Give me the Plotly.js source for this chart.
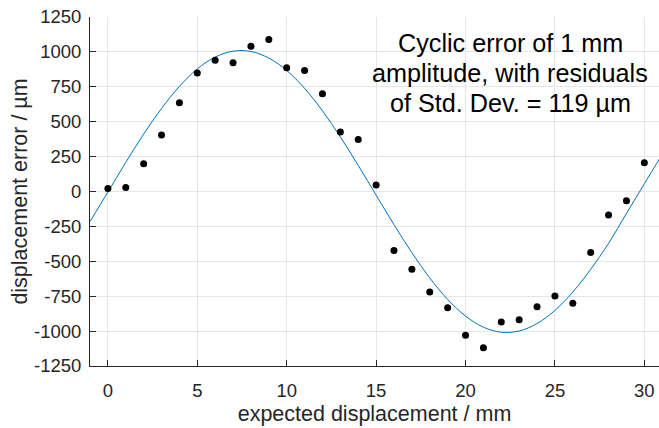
<!DOCTYPE html>
<html>
<head>
<meta charset="utf-8">
<script src="https://cdn.plot.ly/plotly-3.0.1.min.js"></script>
<style>html,body{margin:0;padding:0;background:#fff;}#chart{width:659px;height:428px;}</style>
</head>
<body>
<div id="chart"></div>
<script>
// Measured points
const measuredX = [0,1,2,3,4,5,6,7,8,9,10,11,12,13,14,15,16,17,18,19,20,21,22,23,24,25,26,27,28,29,30];
const measuredY = [22,29,199,404,636,849,940,923,1040,1088,887,866,701,426,373,46,-423,-557,-720,-832,-1030,-1119,-935,-918,-825,-748,-801,-437,-168,-67,206];
// Fitted cyclic curve
const fitX = [-1,0,1,2,3,4,5,6,7,8,9,10,11,12,13,14,15,16,17,18,19,20,21,22,23,24,25,26,27,28,29,30,31];
const fitY = [-216,-4,208,411,595,753,878,963,1005,1003,956,867,739,578,391,187,-26,-237,-438,-619,-773,-892,-972,-1008,-999,-946,-852,-720,-558,-372,-157,55,267];
const xTicks = [0,5,10,15,20,25,30];
const xTickText = ["0","5","10","15","20","25","30"];
const yTicks = [-1250,-1000,-750,-500,-250,0,250,500,750,1000,1250];
const yTickText = ["-1250","-1000","-750","-500","-250","0","250","500","750","1000","1250"];
const annotationLines = ["Cyclic error of 1 mm", "amplitude, with residuals", "of Std. Dev. = 119 µm"];

const fontFam = "Liberation Sans, Arial, sans-serif";
const axCol = "#262626";

const lineY = [1067, 851, 636];
const annotations = annotationLines.map((t, i) => ({
  text: t, xref: "x", yref: "y", x: 22.5, y: lineY[i],
  xanchor: "center", yanchor: "middle", showarrow: false,
  font: {size: 25.2, color: "#000", family: fontFam}
}));

Plotly.newPlot("chart", [
  {x: fitX, y: fitY, mode: "lines", line: {color: "#0072BD", width: 1, shape: "spline", smoothing: 1}, hoverinfo: "skip"},
  {x: measuredX, y: measuredY, mode: "markers", marker: {color: "#000", size: 7}}
], {
  width: 659, height: 428,
  margin: {l: 90, r: 0, t: 17, b: 62},
  paper_bgcolor: "#fff", plot_bgcolor: "#fff",
  showlegend: false,
  font: {family: fontFam, color: axCol},
  xaxis: {
    range: [-1, 30.82], tickvals: xTicks, ticktext: xTickText, ticks: "inside", ticklen: 6, tickcolor: axCol,
    ticklabelstandoff: 8,
    showline: true, linecolor: axCol, linewidth: 1, zeroline: false,
    showgrid: true, gridcolor: "#e6e6e6", gridwidth: 1,
    tickfont: {size: 18.5, color: axCol},
    title: {text: "expected displacement / mm", font: {size: 21.5, color: axCol}, standoff: 5}
  },
  yaxis: {
    range: [-1250, 1250], tickvals: yTicks, ticktext: yTickText, ticks: "inside", ticklen: 6, tickcolor: axCol,
    ticklabelstandoff: 4,
    showline: true, linecolor: axCol, linewidth: 1, zeroline: false,
    showgrid: true, gridcolor: "#e6e6e6", gridwidth: 1,
    tickfont: {size: 18.5, color: axCol},
    title: {text: "displacement error / µm", font: {size: 21.5, color: axCol}, standoff: 0}
  },
  annotations: annotations
}, {displayModeBar: false, staticPlot: true});
</script>
</body>
</html>
